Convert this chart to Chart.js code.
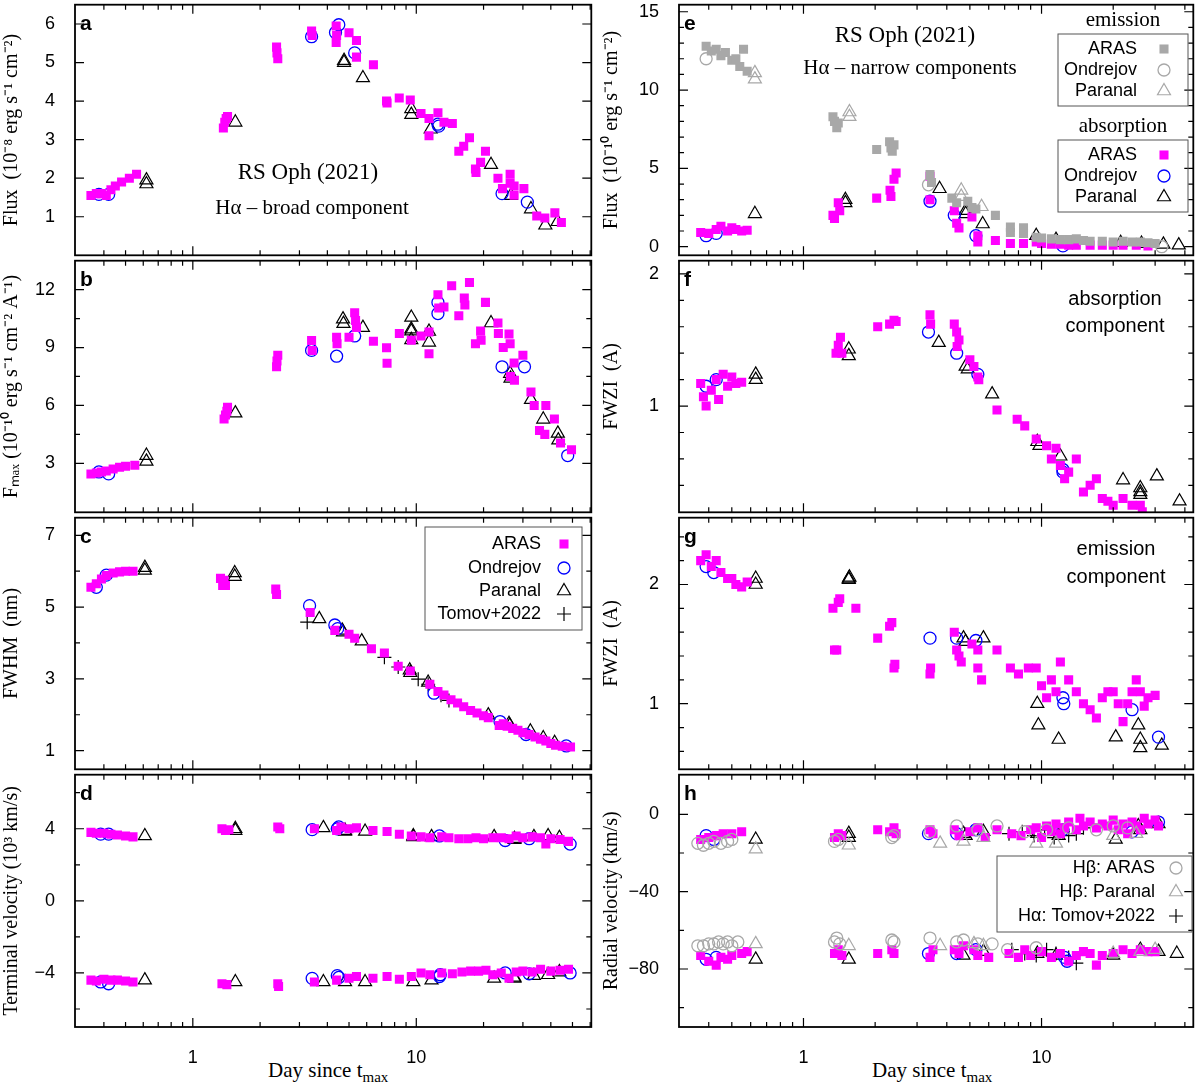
<!DOCTYPE html>
<html>
<head>
<meta charset="utf-8">
<script src="https://cdn.jsdelivr.net/npm/chart.js@4/dist/chart.umd.min.js"></script>
<style>
  body { margin: 0; background: #fff; width: 1202px; height: 1088px; position: relative; overflow: hidden; }
  canvas { position: absolute; }
  .xt { position: absolute; font: 21px "Liberation Serif", "DejaVu Serif", serif; color: #000; }
  .xt sub { font-size: 15px; }
</style>
</head>
<body>
<div class="xt" style="left:268px; top:1058px;">Day since t<sub>max</sub></div>
<div class="xt" style="left:872px; top:1058px;">Day since t<sub>max</sub></div>
<script>
// ── Data (day since t_max, value) ────────────────────────────────────────────

// a — broad component flux
const A_ARAS = [[0.35,1.55],[0.37,1.6],[0.39,1.6],[0.41,1.55],[0.43,1.7],[0.45,1.8],[0.48,1.9],[0.52,2.0],[0.56,2.1],[1.37,3.3],[1.39,3.45],[1.41,3.55],[1.43,3.6],[2.37,5.4],[2.38,5.25],[2.4,5.1],[3.4,5.82],[3.42,5.7],[4.38,5.95],[4.38,5.52],[4.4,5.7],[5.0,5.77],[5.4,5.57],[5.4,5.14],[6.43,4.94],[7.36,4.0],[7.4,3.95],[8.39,4.08],[9.4,4.03],[10.5,3.68],[11.4,3.55],[11.4,3.1],[12.5,3.7],[13.3,3.45],[14.5,3.42],[15.5,2.7],[16.3,2.83],[17.3,3.05],[18.4,2.24],[18.5,2.15],[19.4,2.41],[20.4,2.7],[23.2,2.0],[24.3,1.73],[26.3,2.1],[26.3,1.87],[27.4,1.8],[27.4,1.56],[30.3,1.73],[34.6,1.02],[37.6,0.97],[41.7,1.1],[44.6,0.85]];
const A_OND  = [[0.38,1.58],[0.42,1.58],[3.4,5.67],[4.35,5.78],[4.5,5.98],[5.3,5.25],[12.5,3.4],[12.6,3.35],[24.2,1.6],[31.4,1.38]];
const A_PAR  = [[0.62,1.85],[0.62,1.95],[1.55,3.45],[4.75,5.05],[4.75,5.0],[5.77,4.6],[9.5,3.8],[9.5,3.65],[11.6,3.27],[21.6,2.35],[26.5,1.55],[32.6,1.2],[37.8,0.78],[42.9,0.87]];

// b — F_max
const B_ARAS = [[0.35,2.45],[0.37,2.5],[0.39,2.55],[0.41,2.6],[0.44,2.7],[0.47,2.8],[0.5,2.85],[0.55,2.9],[1.38,5.3],[1.4,5.5],[1.42,5.7],[1.43,5.9],[2.37,8.0],[2.38,8.3],[2.4,8.6],[3.4,9.36],[3.42,8.85],[4.4,9.53],[4.42,9.2],[5.0,9.53],[5.3,10.8],[5.35,10.4],[5.4,10.04],[6.43,9.33],[7.36,8.99],[7.4,8.18],[8.4,9.73],[9.5,9.38],[10.5,9.6],[11.4,9.8],[11.4,8.68],[12.5,11.74],[12.6,11.05],[13.3,11.1],[14.4,12.2],[15.5,10.65],[16.4,11.56],[16.5,11.2],[17.3,12.37],[18.4,9.2],[19.4,9.85],[19.5,9.38],[20.4,11.34],[23.2,10.27],[23.3,9.73],[24.5,9.0],[26.0,9.7],[26.3,9.2],[26.4,7.5],[27.4,8.2],[27.5,7.3],[30.0,8.6],[32.6,6.7],[33.7,6.0],[35.6,4.7],[37.6,4.5],[38.0,6.0],[41.5,5.3],[44.2,4.05],[49.5,3.7]];
const B_OND  = [[0.38,2.55],[0.42,2.45],[3.4,8.85],[4.4,8.55],[5.3,9.6],[12.5,11.34],[12.5,10.76],[24.2,8.0],[30.5,8.0],[47.6,3.4]];
const B_PAR  = [[0.62,3.1],[0.62,3.4],[1.55,5.6],[4.7,10.47],[4.72,10.24],[5.77,10.03],[9.5,10.56],[9.5,9.85],[9.5,9.95],[9.5,9.4],[11.4,9.83],[11.4,9.27],[21.6,10.27],[26.3,7.65],[26.4,7.4],[32.6,6.3],[37.0,5.28],[43.0,4.55],[43.2,4.2]];

// c — FWHM (nm)
const C_ARAS = [[0.35,5.55],[0.37,5.65],[0.39,5.78],[0.41,5.88],[0.44,5.95],[0.47,5.98],[0.5,6.0],[0.54,6.0],[1.33,5.8],[1.36,5.6],[1.38,5.75],[1.4,5.6],[2.35,5.5],[2.37,5.35],[3.35,4.85],[4.32,4.35],[5.0,4.24],[5.3,4.13],[6.3,3.84],[7.2,3.72],[8.3,3.35],[9.4,3.22],[11.5,2.85],[12.5,2.65],[13.3,2.55],[14.3,2.42],[15.3,2.33],[16.3,2.22],[17.5,2.12],[18.7,2.05],[20,1.97],[21,1.92],[23.5,1.7],[24.5,1.75],[25.5,1.68],[27,1.62],[28.5,1.57],[30,1.5],[32,1.45],[34,1.38],[36,1.32],[38,1.27],[40,1.2],[42,1.15],[45,1.12],[49,1.1]];
const C_OND  = [[0.37,5.55],[0.41,5.89],[3.33,5.04],[4.32,4.5],[4.45,4.4],[12.0,2.6],[23.7,1.81],[31.0,1.45],[46.9,1.13]];
const C_PAR  = [[0.61,6.02],[0.61,6.1],[1.54,5.85],[1.54,5.95],[3.68,4.67],[4.66,4.35],[4.7,4.3],[5.7,4.05],[9.35,3.24],[9.4,3.17],[11.3,2.9],[21.0,1.99],[26.0,1.75],[26.2,1.7],[32.4,1.54],[37.0,1.35],[41.6,1.22]];
const C_TOM  = [[3.25,4.58],[7.2,3.6],[8.3,3.33],[10.2,2.99],[11.3,2.85],[12.9,2.54],[14.0,2.4]];

// d — terminal velocity (10^3 km/s)
const D_ARAS = [[0.35,3.8],[0.37,3.75],[0.4,3.75],[0.43,3.7],[0.46,3.65],[0.5,3.6],[0.54,3.55],[1.35,4.0],[1.4,3.9],[1.45,3.95],[2.4,4.1],[2.45,4.0],[3.5,4.0],[4.4,3.9],[4.6,4.1],[5.0,4.0],[5.4,4.05],[6.4,3.9],[7.4,3.85],[8.4,3.7],[9.5,3.6],[10.5,3.55],[11.5,3.5],[13,3.55],[14,3.5],[15.5,3.45],[17,3.45],[18.5,3.5],[20,3.45],[22,3.5],[24,3.5],[26,3.45],[28,3.6],[30,3.5],[33,3.55],[36,3.5],[38,3.15],[40,3.45],[44,3.4],[48,3.3],
  [0.35,-4.4],[0.37,-4.45],[0.4,-4.35],[0.43,-4.4],[0.46,-4.4],[0.5,-4.45],[0.54,-4.5],[1.35,-4.6],[1.42,-4.65],[2.4,-4.6],[2.42,-4.75],[3.5,-4.5],[4.4,-4.4],[5.0,-4.3],[5.4,-4.2],[6.4,-4.3],[7.4,-4.2],[8.4,-4.35],[9.5,-4.2],[10.5,-4.0],[11.5,-4.1],[13,-4.0],[14.5,-4.05],[16,-3.95],[17.5,-3.9],[19,-3.9],[20.5,-3.85],[22,-4.1],[24,-4.0],[26,-4.3],[28,-3.95],[30,-3.9],[33,-3.95],[36,-3.8],[40,-3.9],[44,-3.85],[48,-3.8]];
const D_OND  = [[0.387,3.7],[0.42,3.7],[3.42,3.95],[4.43,4.0],[4.5,4.1],[12.7,3.6],[25,3.35],[32,3.45],[48.8,3.15],
  [0.387,-4.5],[0.42,-4.6],[3.42,-4.3],[4.43,-4.15],[4.5,-4.25],[12.7,-4.2],[12.8,-4.1],[25,-4.0],[32,-4.05],[48.8,-4.0]];
const D_PAR  = [[0.61,3.6],[1.55,4.0],[1.55,3.9],[3.84,4.05],[4.8,3.85],[4.8,3.9],[5.9,3.85],[9.7,3.6],[9.7,3.55],[11.7,3.55],[22.3,3.55],[27.5,3.45],[27.5,3.4],[33.6,3.55],[38.9,3.6],[43.7,3.5],
  [0.61,-4.4],[1.55,-4.5],[3.84,-4.5],[4.8,-4.5],[5.9,-4.5],[9.7,-4.5],[11.7,-4.4],[22.3,-4.3],[27.5,-4.25],[27.5,-4.3],[33.6,-4.15],[38.9,-4.1],[43.7,-3.95]];

// e — narrow components flux (10^-10)
const E_EM_ARAS = [[0.39,12.8],[0.41,12.5],[0.43,12.6],[0.45,12.2],[0.47,12.4],[0.5,11.9],[0.52,12.0],[0.54,11.5],[0.56,12.6],[0.58,11.2],[1.33,8.3],[1.35,8.0],[1.38,7.6],[1.4,7.9],[2.03,6.2],[2.3,6.7],[2.33,6.3],[2.36,6.1],[2.4,6.5],[3.4,4.6],[3.45,4.1],[4.2,3.1],[4.4,2.8],[4.9,2.9],[5.1,2.5],[5.3,2.4],[6.4,2.0],[7.4,1.25],[7.4,0.9],[8.4,1.2],[8.4,0.85],[9.5,0.6],[10,0.55],[11,0.5],[12,0.45],[13,0.45],[14,0.5],[15,0.4],[16,0.35],[18,0.35],[20,0.3],[22,0.35],[24,0.3],[26,0.3],[28,0.25],[30,0.2]];
const E_EM_OND  = [[0.39,12.0],[3.35,3.95],[32,0.0]];
const E_EM_PAR  = [[0.625,11.1],[0.625,10.7],[1.56,8.6],[1.56,8.3],[4.6,3.6],[4.6,3.2],[5.6,2.55]];
const E_AB_ARAS = [[0.37,0.9],[0.4,0.85],[0.43,1.1],[0.45,1.3],[0.48,1.0],[0.5,1.2],[0.52,1.1],[0.55,1.0],[0.58,1.05],[1.33,2.0],[1.35,1.8],[1.4,2.8],[1.42,2.3],[2.03,3.1],[2.31,3.6],[2.33,3.2],[2.4,4.3],[2.45,4.7],[3.4,4.5],[3.4,3.0],[4.3,2.3],[4.4,1.5],[4.5,1.2],[5.1,1.9],[5.4,0.3],[5.4,0.7],[6.4,0.4],[7.4,0.2],[8.4,0.2],[9.5,0.3],[10,0.2],[11,0.15],[12,0.15],[13,0.1],[14,0.1],[16,0.1],[18,0.1],[20,0.1],[22,0.1],[25,0.1],[28,0.05]];
const E_AB_OND  = [[0.39,0.7],[0.43,0.85],[3.4,2.9],[4.3,2.0],[5.3,0.7],[12.3,0.05]];
const E_AB_PAR  = [[0.625,2.1],[1.5,3.0],[1.5,2.8],[3.73,3.7],[4.8,2.3],[4.8,2.1],[5.66,1.45],[9.5,0.7],[11.5,0.45],[21.5,0.25],[26.3,0.2],[32.5,0.15],[37.7,0.1]];

// f — FWZI absorption (A)
const F_ARAS = [[0.37,1.17],[0.38,1.07],[0.39,1.0],[0.41,1.12],[0.43,1.2],[0.44,1.05],[0.46,1.24],[0.48,1.15],[0.5,1.22],[0.52,1.17],[0.55,1.18],[1.37,1.4],[1.4,1.46],[1.43,1.52],[1.45,1.4],[2.05,1.6],[2.3,1.62],[2.4,1.65],[2.45,1.64],[3.4,1.69],[3.42,1.62],[4.3,1.62],[4.4,1.56],[4.5,1.5],[4.42,1.45],[5.0,1.35],[5.2,1.3],[5.4,1.22],[5.45,1.2],[6.5,0.97],[7.9,0.9],[8.5,0.85],[9.5,0.75],[10.5,0.7],[11,0.6],[11.5,0.68],[12,0.55],[12.5,0.45],[13,0.5],[14,0.6],[15,0.35],[16,0.4],[17,0.45],[18,0.3],[19,0.28],[20,0.25],[22,0.3],[24,0.25],[26,0.25],[26.5,0.2]];
const F_OND  = [[0.39,1.15],[0.43,1.2],[3.35,1.56],[4.4,1.4],[5.4,1.24],[12.3,0.52],[12.3,0.5]];
const F_PAR  = [[0.63,1.24],[0.63,1.2],[1.55,1.43],[1.55,1.38],[3.7,1.48],[4.8,1.3],[4.9,1.28],[6.2,1.09],[9.6,0.73],[9.8,0.7],[12,0.62],[22,0.44],[26,0.35],[26,0.33],[26,0.38],[30.5,0.47],[38,0.28]];

// g — FWZI emission (A)
const G_ARAS = [[0.37,2.2],[0.39,2.25],[0.41,2.15],[0.43,2.2],[0.45,2.1],[0.48,2.05],[0.5,2.05],[0.52,2.0],[0.55,1.98],[0.58,2.02],[1.33,1.8],[1.35,1.45],[1.38,1.45],[1.4,1.85],[1.42,1.88],[1.66,1.8],[2.05,1.55],[2.3,1.65],[2.35,1.68],[2.4,1.3],[2.42,1.33],[3.42,1.3],[3.4,1.25],[4.3,1.6],[4.4,1.45],[4.5,1.4],[4.6,1.35],[5.1,1.5],[5.4,1.45],[5.4,1.3],[5.6,1.2],[6.5,1.45],[7.4,1.3],[8.0,1.25],[8.8,1.3],[9.5,1.3],[10,1.15],[10.5,1.05],[11,1.2],[11.5,1.1],[12,1.35],[13,1.2],[14,1.1],[15,1.0],[16,0.95],[17,0.88],[18,1.05],[19,1.1],[20,1.1],[21,1.0],[22,0.85],[23,1.0],[24,1.1],[25,1.2],[26,1.1],[27,0.98],[28,1.05],[30,1.07]];
const G_OND  = [[0.39,2.15],[0.42,2.1],[3.4,1.55],[4.4,1.55],[5.3,1.53],[12.3,1.05],[12.4,1.0],[24,0.95],[31,0.72]];
const G_PAR  = [[0.63,2.05],[0.63,2.0],[1.55,2.05],[1.55,2.04],[1.56,2.06],[4.7,1.55],[4.8,1.52],[5.7,1.55],[9.6,1.0],[9.7,0.82],[11.8,0.7],[20.5,0.72],[25.5,0.82],[26,0.7],[26,0.63],[32,0.65]];

// h — radial velocity (km/s)
const H_ARAS = [[0.37,-13],[0.4,-12],[0.43,-11],[0.46,-10],[0.5,-10],[0.55,-9],[1.35,-12],[1.4,-10],[1.45,-11],[2.05,-8],[2.3,-9],[2.4,-7],[2.45,-10],[3.4,-8],[3.5,-10],[4.3,-8],[4.5,-11],[5.0,-9],[5.4,-7],[5.8,-12],[6.5,-8],[7.5,-10],[8.2,-11],[9,-8],[9.5,-7],[10,-12],[10.5,-6],[11,-9],[11.5,-5],[12,-10],[12.5,-7],[13,-4],[14,-8],[14.5,-2],[15,-6],[16,-4],[17,-7],[18,-5],[19,-6],[20,-3],[21,-8],[22,-5],[23,-10],[24,-4],[25,-6],[26,-8],[27,-2],[28,-5],[30,-3],[31,-6],
  [0.37,-73],[0.4,-76],[0.43,-78],[0.45,-74],[0.48,-75],[0.5,-73],[0.55,-72],[0.58,-71],[1.35,-72],[1.4,-70],[1.45,-73],[2.05,-72],[2.35,-70],[2.4,-72],[3.4,-74],[3.5,-70],[4.3,-70],[4.5,-72],[4.7,-68],[5.2,-70],[5.4,-73],[6.0,-74],[7.3,-72],[8,-74],[8.5,-70],[9,-73],[10,-71],[11,-74],[12,-72],[13,-76],[14,-73],[15,-71],[16,-72],[17,-78],[18,-73],[20,-72],[22,-70],[24,-72],[26,-70],[28,-71],[30,-71]];
const H_OND  = [[0.39,-11],[0.42,-13],[3.35,-10],[4.4,-10],[5.3,-8],[12.3,-8],[24,-9],[31,-4],[0.39,-75],[0.43,-74],[3.35,-72],[4.4,-72],[5.3,-70],[12.5,-74],[12.8,-76]];
const H_PAR  = [[0.63,-13],[1.55,-12],[1.55,-10],[4.7,-10],[4.8,-11],[5.7,-9],[9.6,-10],[11.8,-11],[20.5,-13],[25.5,-6],[26,-8],[31,-5],[0.63,-75],[1.55,-75],[4.7,-73],[5.7,-71],[9.6,-72],[11.5,-73],[20,-73],[26,-70],[31,-71],[37,-72]];
const H_HB_ARAS = [[0.36,-15],[0.38,-16],[0.4,-15],[0.42,-14],[0.45,-15],[0.48,-14],[0.5,-13],[1.35,-14],[1.4,-13],[2.35,-12],[2.4,-11],[3.4,-9],[4.4,-6],[5.4,-8],[6.5,-6],[8.5,-9],[10.5,-8],[13,-7],[17,-8],[20,-6],[23,-7],
  [0.36,-68],[0.38,-68],[0.4,-67],[0.42,-67],[0.44,-66],[0.46,-67],[0.48,-66],[0.5,-68],[0.53,-66],[1.35,-66],[1.38,-64],[1.42,-67],[2.35,-65],[2.4,-66],[3.4,-64],[4.4,-66],[4.7,-65],[5.4,-67],[6.2,-67],[7.2,-70],[9.5,-69]];
const H_HB_PAR  = [[0.63,-18],[1.55,-16],[3.75,-15],[4.7,-14],[5.7,-12],[9.5,-15],[11.5,-15],[20,-11],[25,-10],[0.63,-67],[1.55,-68],[3.75,-68],[5.2,-67],[5.7,-68],[20,-72],[26,-71],[30,-70]];
const H_TOM     = [[7.3,-10],[8.3,-9],[9.3,-11],[10.3,-8],[11.3,-12],[12.3,-9],[13,-11],[14,-10],[15,-7],[7.5,-70],[8.5,-72],[9.5,-73],[10.5,-70],[11.5,-72],[13,-74],[14,-77]];

// tick values
const X_MINOR = [0.3,0.4,0.5,0.6,0.7,0.8,0.9,2,3,4,5,6,7,8,9,20,30,40,50,60];
const X_MAJOR = [1, 10];

// ── Marker styles ────────────────────────────────────────────────────────────

const MAGENTA = '#ff00ff', BLUE = '#0000ff', GRAY = '#a8a8a8';

const pts = arr => arr.map(([x, y]) => ({ x, y }));
const STY = {
    aras:   { pointStyle: 'rect',     radius: 6.4, fill: MAGENTA, stroke: MAGENTA, bw: 0 },
    garas:  { pointStyle: 'rect',     radius: 6.4, fill: GRAY,    stroke: GRAY,    bw: 0 },
    ond:    { pointStyle: 'circle',   radius: 6,   fill: 'rgba(0,0,0,0)', stroke: BLUE,  bw: 1.3 },
    gond:   { pointStyle: 'circle',   radius: 6,   fill: 'rgba(0,0,0,0)', stroke: GRAY,  bw: 1.3 },
    par:    { pointStyle: 'triangle', radius: 7.5, fill: 'rgba(0,0,0,0)', stroke: '#000', bw: 1.2 },
    gpar:   { pointStyle: 'triangle', radius: 7.5, fill: 'rgba(0,0,0,0)', stroke: GRAY,   bw: 1.2 },
    tom:    { pointStyle: 'cross',    radius: 7,   fill: 'rgba(0,0,0,0)', stroke: '#000', bw: 1.2 },
};

function ds(data, key) {
    const s = STY[key];
    return {
        data: pts(data), showLine: false,
        pointStyle: s.pointStyle, pointRadius: s.radius, pointHoverRadius: s.radius,
        backgroundColor: s.fill, borderColor: s.stroke, borderWidth: s.bw,
    };
}

// ── Decoration plugin (frame, inward ticks, labels, legends) ─────────────────

function mark(ctx, key, x, y) {
    const s = STY[key];
    ctx.save();
    ctx.fillStyle = s.fill; ctx.strokeStyle = s.stroke; ctx.lineWidth = s.bw;
    Chart.helpers.drawPoint(ctx, { pointStyle: s.pointStyle, radius: s.radius, rotation: 0, borderWidth: s.bw }, x, y);
    ctx.restore();
}

const decor = {
    id: 'decor',
    afterDraw(chart, args, o) {
        const { ctx, chartArea: a, scales } = chart;
        const ox = o.ox, oy = o.oy;
        ctx.save();
        ctx.strokeStyle = '#000';
        ctx.lineWidth = 1.2;
        ctx.beginPath();
        o.yMajor.forEach(v => { const y = scales.y.getPixelForValue(v); ctx.moveTo(a.left, y); ctx.lineTo(a.left + 9, y); ctx.moveTo(a.right, y); ctx.lineTo(a.right - 9, y); });
        o.yMinor.forEach(v => { const y = scales.y.getPixelForValue(v); ctx.moveTo(a.left, y); ctx.lineTo(a.left + 5, y); ctx.moveTo(a.right, y); ctx.lineTo(a.right - 5, y); });
        X_MAJOR.forEach(v => { const x = scales.x.getPixelForValue(v); ctx.moveTo(x, a.bottom); ctx.lineTo(x, a.bottom - 9); ctx.moveTo(x, a.top); ctx.lineTo(x, a.top + 9); });
        X_MINOR.forEach(v => {
            const x = scales.x.getPixelForValue(v);
            if (x <= a.left + 1 || x >= a.right - 1) return;
            ctx.moveTo(x, a.bottom); ctx.lineTo(x, a.bottom - 5); ctx.moveTo(x, a.top); ctx.lineTo(x, a.top + 5);
        });
        ctx.stroke();
        ctx.lineWidth = 1.8;
        ctx.strokeRect(a.left, a.top, a.right - a.left, a.bottom - a.top);

        ctx.fillStyle = '#000';
        ctx.textBaseline = 'middle';
        ctx.font = 'bold 21px "Liberation Sans", Arial, sans-serif';
        ctx.textAlign = 'left';
        ctx.fillText(o.letter, o.letterX - ox, o.letterY - oy);

        (o.texts || []).forEach(t => {
            ctx.font = t.font; ctx.textAlign = 'center';
            ctx.fillText(t.text, t.x - ox, t.y - oy);
        });

        (o.legends || []).forEach(L => {
            ctx.lineWidth = 1;
            ctx.strokeStyle = '#555';
            ctx.strokeRect(L.box[0] - ox, L.box[1] - oy, L.box[2] - L.box[0], L.box[3] - L.box[1]);
            ctx.font = '18px "Liberation Sans", Arial, sans-serif';
            ctx.textAlign = 'right';
            L.rows.forEach(r => {
                ctx.fillStyle = '#000';
                ctx.fillText(r.label, L.textX - ox, r.y - oy);
                mark(ctx, r.key, L.markX - ox, r.y - oy);
            });
        });
        ctx.restore();
    },
};

// ── Panels ───────────────────────────────────────────────────────────────────

const fmt = v => (v < 0 ? '\u2212' + Math.abs(v) : String(v));
const SANS = '"Liberation Sans", Arial, sans-serif';
const SERIF = '"Liberation Serif", "Times New Roman", serif';

function panel(p) {
    const right = p.col === 1;
    const cvLeft = right ? 600 : 0;
    const cvWidth = right ? 602 : 600;
    const yw = right ? 79 : 75;
    const padR = right ? 5 : 3;
    const cvTop = p.top - 6;
    const cvHeight = p.bottom ? 1088 - cvTop : p.height + 12;

    const cv = document.createElement('canvas');
    cv.width = cvWidth; cv.height = cvHeight;
    cv.style.left = cvLeft + 'px'; cv.style.top = cvTop + 'px';
    document.body.appendChild(cv);

    new Chart(cv.getContext('2d'), {
        type: 'scatter',
        data: { datasets: p.datasets },
        plugins: [decor],
        options: {
            responsive: false, animation: false, devicePixelRatio: 1,
            layout: { padding: { top: 6, right: padR, bottom: p.bottom ? 0 : 6, left: 0 } },
            plugins: {
                legend: { display: false }, tooltip: { enabled: false },
                decor: { ox: cvLeft, oy: cvTop, yMajor: p.yMajor, yMinor: p.yMinor, letter: p.letter,
                         letterX: right ? 684 : 80, letterY: p.top + 22, texts: p.texts, legends: p.legends },
            },
            scales: {
                x: {
                    type: 'logarithmic', min: right ? 0.301 : 0.297, max: right ? 43.4 : 60.7,
                    display: !!p.bottom,
                    grid: { display: false }, border: { display: false },
                    afterBuildTicks: ax => { ax.ticks = X_MAJOR.map(v => ({ value: v })); },
                    afterFit: ax => { ax.height = p.bottom ? 61 : 0; ax.paddingLeft = 0; ax.paddingRight = 0; },
                    ticks: { autoSkip: false, maxRotation: 0, color: '#000', padding: 12,
                             font: { family: SANS, size: 18 }, callback: v => String(v) },
                },
                y: {
                    min: p.yMin, max: p.yMax,
                    grid: { display: false }, border: { display: false },
                    afterBuildTicks: ax => { ax.ticks = p.yMajor.map(v => ({ value: v })); },
                    afterFit: ax => { ax.width = yw; ax.paddingTop = 0; ax.paddingBottom = 0; },
                    ticks: { color: '#000', padding: 12, font: { family: SANS, size: 18 }, callback: v => fmt(v) },
                    title: { display: true, text: p.ytitle, color: '#000', padding: { top: 0, bottom: 0 },
                             font: { family: SERIF, size: 20 } },
                },
            },
        },
    });
}

const step = (a, b, s) => { const r = []; for (let v = a; v <= b + 1e-9; v += s) r.push(+v.toFixed(3)); return r; };

// left column
panel({ col: 0, top: 2, height: 256, letter: 'a', yMin: 0, yMax: 6.5, yMajor: [1,2,3,4,5,6], yMinor: [],
    ytitle: 'Flux  (10\u207B\u2078 erg s\u207B\u00B9 cm\u207B\u00B2)',
    datasets: [ds(A_ARAS, 'aras'), ds(A_OND, 'ond'), ds(A_PAR, 'par')],
    texts: [{ text: 'RS Oph (2021)', x: 308, y: 173, font: '23px ' + SERIF },
            { text: 'H\u03B1 \u2013 broad component', x: 312, y: 208, font: '21px ' + SERIF }] });

panel({ col: 0, top: 258, height: 257, letter: 'b', yMin: 0.46, yMax: 13.5, yMajor: [3,6,9,12], yMinor: [4.5,7.5,10.5],
    ytitle: 'F\u2098\u2090\u2093 (10\u207B\u00B9\u2070 erg s\u207B\u00B9 cm\u207B\u00B2 A\u207B\u00B9)',
    datasets: [ds(B_ARAS, 'aras'), ds(B_OND, 'ond'), ds(B_PAR, 'par')] });

panel({ col: 0, top: 515, height: 257, letter: 'c', yMin: 0.48, yMax: 7.49, yMajor: [1,3,5,7], yMinor: [2,4,6],
    ytitle: 'FWHM  (nm)',
    datasets: [ds(C_ARAS, 'aras'), ds(C_OND, 'ond'), ds(C_PAR, 'par'), ds(C_TOM, 'tom')],
    legends: [{ box: [425, 527, 582, 630], textX: 541, markX: 564,
        rows: [{ label: 'ARAS', key: 'aras', y: 544 }, { label: 'Ondrejov', key: 'ond', y: 568 },
               { label: 'Paranal', key: 'par', y: 591 }, { label: 'Tomov+2022', key: 'tom', y: 614 }] }] });

panel({ col: 0, top: 772, height: 255, bottom: true, letter: 'd', yMin: -7, yMax: 7, yMajor: [-4,0,4], yMinor: [-6,-2,2,6],
    ytitle: 'Terminal velocity (10\u00B3 km/s)',
    datasets: [ds(D_ARAS, 'aras'), ds(D_OND, 'ond'), ds(D_PAR, 'par')] });

// right column
panel({ col: 1, top: 2, height: 256, letter: 'e', yMin: -0.55, yMax: 15.45, yMajor: [0,5,10,15], yMinor: step(1, 14, 1),
    ytitle: 'Flux  (10\u207B\u00B9\u2070 erg s\u207B\u00B9 cm\u207B\u00B2)',
    datasets: [ds(E_EM_ARAS, 'garas'), ds(E_EM_OND, 'gond'), ds(E_EM_PAR, 'gpar'),
               ds(E_AB_ARAS, 'aras'), ds(E_AB_OND, 'ond'), ds(E_AB_PAR, 'par')],
    texts: [{ text: 'RS Oph (2021)', x: 905, y: 36, font: '23px ' + SERIF },
            { text: 'H\u03B1 \u2013 narrow components', x: 910, y: 68, font: '21px ' + SERIF },
            { text: 'emission', x: 1123, y: 20, font: '21px ' + SERIF },
            { text: 'absorption', x: 1123, y: 126, font: '21px ' + SERIF }],
    legends: [{ box: [1058, 34, 1188, 106], textX: 1137, markX: 1164,
        rows: [{ label: 'ARAS', key: 'garas', y: 49 }, { label: 'Ondrejov', key: 'gond', y: 70 }, { label: 'Paranal', key: 'gpar', y: 91 }] },
              { box: [1058, 140, 1188, 212], textX: 1137, markX: 1164,
        rows: [{ label: 'ARAS', key: 'aras', y: 155 }, { label: 'Ondrejov', key: 'ond', y: 176 }, { label: 'Paranal', key: 'par', y: 197 }] }] });

panel({ col: 1, top: 258, height: 257, letter: 'f', yMin: 0.196, yMax: 2.1, yMajor: [1,2], yMinor: [0.4,0.6,0.8,1.2,1.4,1.6,1.8],
    ytitle: 'FWZI  (A)',
    datasets: [ds(F_ARAS, 'aras'), ds(F_OND, 'ond'), ds(F_PAR, 'par')],
    texts: [{ text: 'absorption', x: 1115, y: 299, font: '20px ' + SANS },
            { text: 'component', x: 1115, y: 326, font: '20px ' + SANS }] });

panel({ col: 1, top: 515, height: 257, letter: 'g', yMin: 0.45, yMax: 2.56, yMajor: [1,2], yMinor: [0.6,0.8,1.2,1.4,1.6,1.8,2.2,2.4],
    ytitle: 'FWZI  (A)',
    datasets: [ds(G_ARAS, 'aras'), ds(G_OND, 'ond'), ds(G_PAR, 'par')],
    texts: [{ text: 'emission', x: 1116, y: 549, font: '20px ' + SANS },
            { text: 'component', x: 1116, y: 577, font: '20px ' + SANS }] });

panel({ col: 1, top: 772, height: 255, bottom: true, letter: 'h', yMin: -110, yMax: 20.5, yMajor: [-80,-40,0], yMinor: [-100,-60,-20],
    ytitle: 'Radial velocity (km/s)',
    datasets: [ds(H_HB_ARAS, 'gond'), ds(H_HB_PAR, 'gpar'), ds(H_ARAS, 'aras'), ds(H_OND, 'ond'), ds(H_PAR, 'par'), ds(H_TOM, 'tom')],
    legends: [{ box: [997, 856, 1192, 932], textX: 1155, markX: 1176,
        rows: [{ label: 'H\u03B2: ARAS', key: 'gond', y: 868 }, { label: 'H\u03B2: Paranal', key: 'gpar', y: 892 },
               { label: 'H\u03B1: Tomov+2022', key: 'tom', y: 916 }] }] });
</script>
</body>
</html>
